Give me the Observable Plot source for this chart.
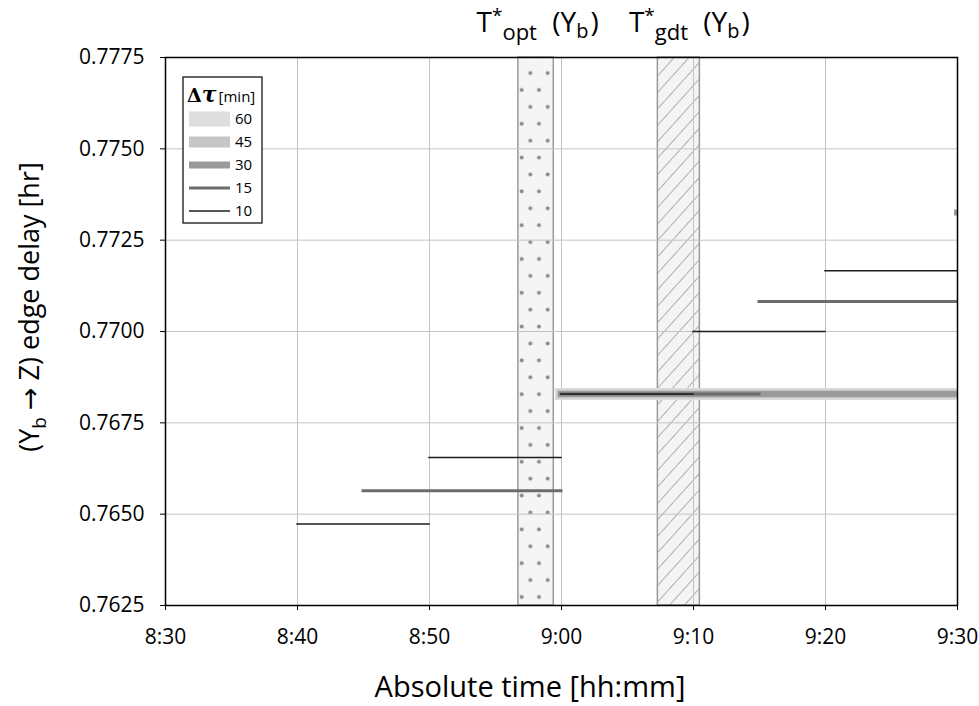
<!DOCTYPE html>
<html>
<head>
<meta charset="utf-8">
<script src="https://cdn.jsdelivr.net/npm/d3@7"></script>
<script src="https://cdn.jsdelivr.net/npm/@observablehq/plot@0.6"></script>
<style>
  html, body { margin: 0; padding: 0; background: #fff; }
  #chart { position: relative; width: 979px; height: 706px; }
</style>
</head>
<body>
<div id="chart"></div>
<script>
// Rolling-window estimates of the (Yb -> Z) edge delay: one segment per window
const windowMin = [60, 45, 30, 30, 15, 15, 15, 10, 10, 10, 10, 10];
const startTime = ["9:00", "9:00", "9:00", "9:30", "8:45", "9:00", "9:15", "8:40", "8:50", "9:00", "9:10", "9:20"];
const delayHr   = [0.76829, 0.76829, 0.76829, 0.77326, 0.76564, 0.76829, 0.77082, 0.76473, 0.76655, 0.76829, 0.77000, 0.77166];

// Legend order and styling per window length
const windowSizes  = [60, 45, 30, 15, 10];
const windowColors = ["#dedede", "#c6c6c6", "#9a9a9a", "#6c6c6c", "#1c1c1c"];
const windowWidths = [12, 9, 6, 3, 1.5];
const legendWidths = [15, 11, 7, 3, 1.3];

// Optimal and gradient-based departure-time intervals
const bandNames = ["opt", "gdt"];
const bandStart = ["8:56:44", "9:07:18"];
const bandEnd   = ["8:59:25", "9:10:29"];
const bandFill  = ["url(#dots)", "url(#hatch)"];

// Axis ticks
const xTickLabels = ["8:30", "8:40", "8:50", "9:00", "9:10", "9:20", "9:30"];
const yTickValues = [0.7625, 0.7650, 0.7675, 0.7700, 0.7725, 0.7750, 0.7775];

const toMin = s => { const [h, m, sec = 0] = s.split(":").map(Number); return h * 60 + m + sec / 60; };
const fmtMin = m => `${Math.floor(m / 60)}:${String(Math.round(m % 60)).padStart(2, "0")}`;
const xTicks = xTickLabels.map(toMin);

const segments = windowMin.map((w, i) => ({
  window: w,
  start: toMin(startTime[i]),
  end: toMin(startTime[i]) + w,
  delay: delayHr[i]
}));
const bands = bandNames.map((name, i) => ({
  name, x1: toMin(bandStart[i]), x2: toMin(bandEnd[i]), fill: bandFill[i]
}));

const FONT = "'Open Sans', 'DejaVu Sans', sans-serif";

const svg = Plot.plot({
  width: 979,
  height: 706,
  marginLeft: 165,
  marginRight: 22,
  marginTop: 57,
  marginBottom: 101,
  style: { fontFamily: FONT, fontSize: "21px", color: "#000", background: "#fff", overflow: "visible" },
  x: { domain: [xTicks[0], xTicks[xTicks.length - 1]], label: null },
  y: { domain: [yTickValues[0], yTickValues[yTickValues.length - 1]], label: null },
  marks: [
    // interval bands (pattern fill + grey edges)
    ...bands.map(b => Plot.rect([b], {
      x1: "x1", x2: "x2", fill: b.fill, stroke: "#9a9a9a", strokeWidth: 1.5
    })),
    Plot.gridX(xTicks.slice(1, -1), { stroke: "#c4c4c4", strokeOpacity: 1, strokeWidth: 1 }),
    Plot.gridY(yTickValues.slice(1, -1), { stroke: "#c4c4c4", strokeOpacity: 1, strokeWidth: 1 }),
    // one layer per window length, widest first
    ...windowSizes.map((w, k) => Plot.ruleY(segments.filter(d => d.window === w), {
      y: "delay", x1: "start", x2: "end",
      stroke: windowColors[k], strokeWidth: windowWidths[k],
      strokeLinecap: "square", clip: true
    })),
    Plot.frame({ stroke: "#000", strokeWidth: 1.5 }),
    Plot.axisX({ ticks: xTicks, tickFormat: fmtMin, tickSize: 5, tickPadding: 19, fontSize: 21, label: null, stroke: "#000" }),
    Plot.axisY({ ticks: yTickValues, tickFormat: d3.format(".4f"), tickSize: 5, tickPadding: 16, fontSize: 21, label: null, stroke: "#000" })
  ]
});

document.getElementById("chart").appendChild(svg);

const root = d3.select(svg);
const xs = v => svg.scale("x").apply(v);

// tick labels at full size
root.selectAll('g[aria-label$="tick label"]').style("font-size", "21px");

// fill patterns for the two bands
const defs = root.insert("defs", ":first-child");
const dots = defs.append("pattern")
  .attr("id", "dots").attr("patternUnits", "userSpaceOnUse")
  .attr("width", 17.3).attr("height", 33.8);
dots.append("rect").attr("width", 17.3).attr("height", 33.8).attr("fill", "#f5f5f5");
dots.append("circle").attr("cx", 2.7).attr("cy", 22.4).attr("r", 2).attr("fill", "#8c8c8c");
dots.append("circle").attr("cx", 11.35).attr("cy", 5.5).attr("r", 2).attr("fill", "#8c8c8c");

const hatch = defs.append("pattern")
  .attr("id", "hatch").attr("patternUnits", "userSpaceOnUse")
  .attr("width", 11).attr("height", 11)
  .attr("patternTransform", "rotate(42)");
hatch.append("rect").attr("width", 11).attr("height", 11).attr("fill", "#f4f4f4");
hatch.append("line").attr("x1", 0).attr("y1", 0).attr("x2", 0).attr("y2", 11)
  .attr("stroke", "#8a8a8a").attr("stroke-width", 1.3);

// band labels: T*_opt (Y_b), T*_gdt (Y_b)
bands.forEach((b, i) => {
  const t = root.append("text")
    .attr("x", xs((b.x1 + b.x2) / 2) + (i === 0 ? 2 : 11)).attr("y", 32)
    .attr("text-anchor", "middle")
    .style("font-family", FONT).style("font-size", "28px").attr("fill", "#000");
  t.append("tspan").text("T");
  t.append("tspan").attr("dy", -10).style("font-size", "19px").text("*");
  t.append("tspan").attr("dy", 18).style("font-size", "22px").text(b.name);
  t.append("tspan").attr("dy", -8).attr("dx", 8).text(" (Y");
  t.append("tspan").attr("dy", 6).style("font-size", "20px").text("b");
  t.append("tspan").attr("dy", -6).attr("dx", 2).text(")");
});

// axis titles
root.append("text")
  .attr("x", 530).attr("y", 697).attr("text-anchor", "middle")
  .style("font-family", FONT).style("font-size", "29px").attr("fill", "#000")
  .text("Absolute time [hh:mm]");

const yt = root.append("text")
  .attr("transform", "translate(39,307) rotate(-90)")
  .attr("text-anchor", "middle")
  .style("font-family", FONT).style("font-size", "27px").attr("fill", "#000");
yt.append("tspan").text("(Y");
yt.append("tspan").attr("dy", 7).style("font-size", "19px").text("b");
yt.append("tspan").attr("dy", -7).text(" \u2192 Z) edge delay [hr]");

// legend box
const lg = root.append("g").attr("transform", "translate(183,77)").attr("text-anchor", "start");
lg.append("rect").attr("width", 79).attr("height", 146)
  .attr("fill", "#fff").attr("stroke", "#000").attr("stroke-width", 1.2);
const lt = lg.append("text").attr("x", 4).attr("y", 25).attr("fill", "#000");
lt.append("tspan").style("font-family", "'DejaVu Serif', serif").style("font-weight", "bold")
  .style("font-size", "19px").text("\u0394");
lt.append("tspan").style("font-family", "'DejaVu Serif', serif").style("font-weight", "bold")
  .style("font-style", "italic").style("font-size", "22px").text("\u03c4");
lt.append("tspan").style("font-family", FONT).style("font-size", "15px").attr("dx", 2).text("[min]");
windowSizes.forEach((w, k) => {
  const y = 42 + k * 23;
  lg.append("line").attr("x1", 6).attr("x2", 47).attr("y1", y).attr("y2", y)
    .attr("stroke", windowColors[k]).attr("stroke-width", legendWidths[k]);
  lg.append("text").attr("x", 52).attr("y", y).attr("dy", "0.35em")
    .style("font-family", FONT).style("font-size", "15px").attr("fill", "#000")
    .text(w);
});
</script>
</body>
</html>
